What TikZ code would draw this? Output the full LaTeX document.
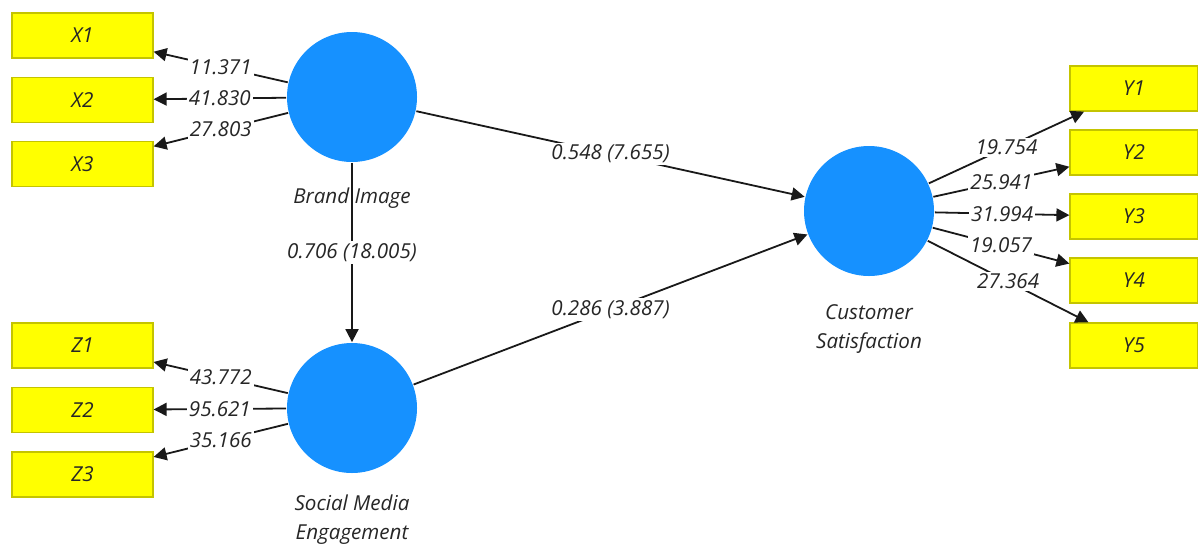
\documentclass[tikz,border=0pt]{standalone}
\usepackage{fontspec}
\newfontfamily\plsfont{Open Sans}
\usetikzlibrary{arrows.meta,positioning}
\definecolor{Indicator}{RGB}{255,255,0}
\definecolor{IndicatorEdge}{RGB}{196,196,0}
\definecolor{Latent}{RGB}{22,145,255}

\begin{document}
\begin{tikzpicture}[x=0.5pt, y=-0.5pt,
       >={Triangle[length=6.5pt,width=6.5pt]}, black!90, text=black!85, line width=0.9pt,
       every node/.style={font=\plsfont\itshape\fontsize{10.3}{14.5}\selectfont},
       indicator/.style = {rectangle, minimum width=70.5pt, minimum height=22.5pt, inner sep=0pt,
                           fill=Indicator, draw=IndicatorEdge, line width=0.6pt},
       latent/.style = {circle, minimum size=65pt, inner sep=0pt, fill=Latent, draw=none},
       weight/.style = {midway, fill=white, inner sep=1pt}]
	\useasboundingbox (0,0) rectangle (1198,547);

	%% Latent variables
	\node [latent] (brand) at (352,97) {};
	\node [latent] (social) at (352,408) {};
	\node [latent] (satisf) at (869,211) {};

	%% Indicators
	\foreach \i/\y in {1/35.5,2/100,3/164}
	    \node [indicator] (x\i) at (82.5,\y) {X\i};
	\foreach \i/\y in {1/345.5,2/410,3/474.5}
	    \node [indicator] (z\i) at (82.5,\y) {Z\i};
	\foreach \i/\y in {1/88.5,2/152.5,3/216.5,4/280.5,5/345.5}
	    \node [indicator,minimum width=64pt] (y\i) at (1134,\y) {Y\i};

	%% Outer loadings
	\foreach \i/\w in {1/11.371,2/41.830,3/27.803}
	    \draw[->] (brand) -- (x\i) node[weight] (wx\i) {\w};
	\foreach \i/\w in {1/43.772,2/95.621,3/35.166}
	    \draw[->] (social) -- (z\i) node[weight] (wz\i) {\w};
	\foreach \i/\w in {1/19.754,2/25.941,3/31.994,4/19.057,5/27.364}
	    \draw[->] (satisf) -- (y\i) node[weight] (wy\i) {\w};

	%% Paths
	\draw[->] (brand) -- (social) node[weight] (p1) {0.706 (18.005)};
	\draw[->] (brand) -- (satisf) node[weight] (p2) {0.548 (7.655)};
	\draw[->] (social) -- (satisf) node[weight] (p3) {0.286 (3.887)};

	%% Names
	\node (brand-name) at (352,198) {Brand Image};
	\node [align=center] (social-name) at (352,520) {Social Media\\Engagement};
	\node [align=center] (satisf-name) at (869,329) {Customer\\Satisfaction};
\end{tikzpicture}
\end{document}
